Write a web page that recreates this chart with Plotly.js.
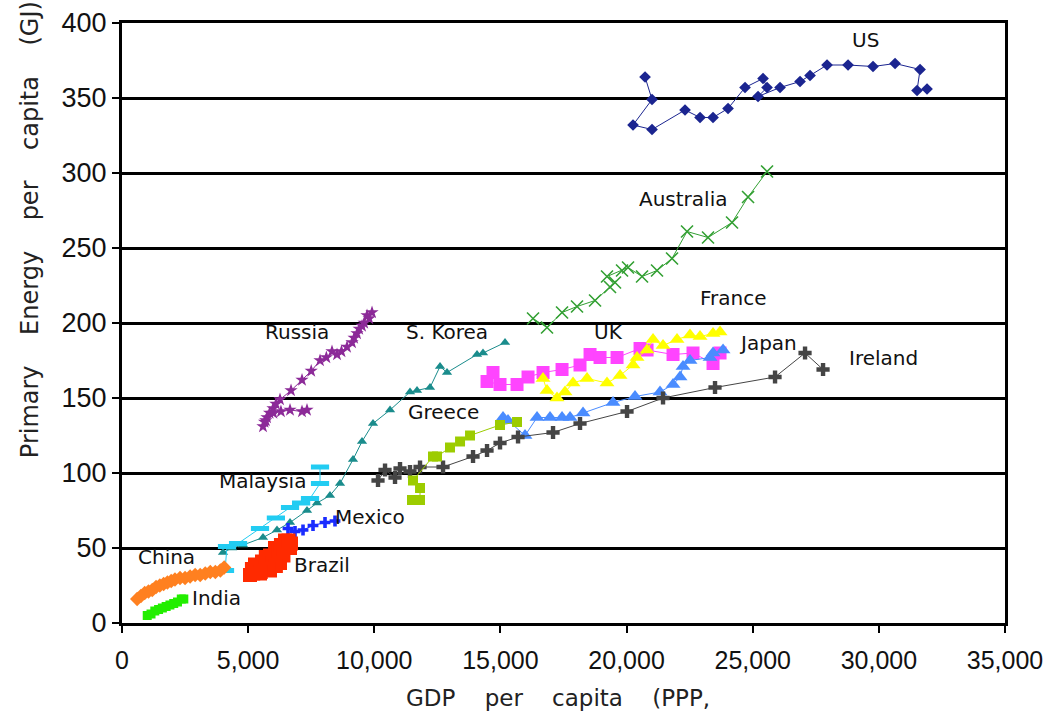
<!DOCTYPE html>
<html>
<head>
<meta charset="utf-8">
<script src="https://cdn.plot.ly/plotly-3.0.1.min.js"></script>
<style>html,body{margin:0;padding:0;background:#fff;}#chart{width:1058px;height:722px;}</style>
</head>
<body>
<div id="chart"></div>
<script>
// GDP per capita (PPP) vs primary energy per capita (GJ)
const usX = [20733,21009,20256,21009,22317,22912,23427,24022,24696,25409,25568,25211,26083,26876,27272,27946,28779,29769,30642,31633,31514,31910];
const usY = [364,349,332,329,342,337,337,343,357,363,357,351,357,361,365,372,372,371,373,369,355,356];

const australiaX = [16292,16847,17442,18036,18750,19344,19542,19225,19820,20058,20613,21207,21802,22396,23229,24180,24815,25568];
const australiaY = [203,197,207,211,215,224,227,231,235,237,231,235,243,261,257,267,284,301];

const russiaX = [9910,9800,9712,9600,9514,9400,9315,9200,9117,8919,8700,8523,8324,8100,7849,7500,7135,6700,6263,6100,5986,5850,5748,5650,5589,5700,6000,6300,6660,7135,7333];
const russiaY = [207,203,205,200,198,196,193,190,187,184,181,179,181,177,175,168,162,155,149,146,143,140,137,134,131,135,140,141,142,141,142];

const koreaX = [4004,4360,4796,5589,6144,6660,7333,7730,8245,8641,9157,9514,9950,10624,11416,11694,12209,12606,12883,14072,14310,15182];
const koreaY = [47,50,52,57,62,67,75,80,85,93,109,121,133,142,154,155,157,171,167,179,180,187];

const malaysiaX = [4083,4162,4600,5470,6100,6660,7100,7452,7849,7849];
const malaysiaY = [35,51,53,63,70,77,80,83,93,104];

const mexicoX = [6580,6858,7175,7571,8047,8443];
const mexicoY = [63,61,62,65,67,68];

const brazilX = [5074,5150,5272,5350,5470,5550,5700,5867,5950,5867,6065,6200,6300,6461,6600,6700,6660,6400,6263,6100,5800,5500,5200];
const brazilY = [32,36,39,35,33,41,44,45,40,35,50,48,52,55,55,53,50,45,40,38,36,34,33];

const chinaX = [600,750,900,1050,1200,1350,1500,1650,1800,1950,2100,2300,2500,2700,2900,3100,3300,3500,3700,3900,4050];
const chinaY = [16,18,20,21,22,24,25,26,27,28,29,30,30,31,32,32,33,34,34,35,37];

const indiaX = [1000,1150,1300,1450,1600,1750,1900,2050,2200,2350,2450];
const indiaY = [5,6,8,9,10,11,12,13,14,16,16];

const ukX = [14706,14469,14984,15658,16094,16689,17442,18155,18552,18948,19622,20534,20812,21842,22634,23427,23705];
const ukY = [167,161,159,159,164,167,169,172,179,177,177,183,182,179,180,173,180];

const franceX = [16689,16847,17243,17560,17878,18433,19225,19741,20256,20415,20812,21049,21446,22000,22515,22912,23427,23705];
const franceY = [163,155,150,154,160,163,160,165,172,177,182,189,185,189,192,191,193,194];

const japanX = [15103,15301,15975,16451,16966,17442,17759,18274,19463,20335,21326,21842,22119,22238,22515,23308,23427,23824];
const japanY = [137,135,125,137,137,137,137,140,147,151,154,159,164,171,175,177,180,182];

const irelandX = [10148,10426,10822,11020,11416,11813,12725,13914,14469,14984,15698,17085,18155,20018,21445,23506,25885,27074,27788];
const irelandY = [95,102,97,103,101,104,104,111,115,120,124,127,133,141,150,157,164,180,169];

const greeceX = [11495,11813,11813,11535,12328,12487,13002,13399,13795,14984,15658];
const greeceY = [82,82,90,95,111,111,117,121,125,132,134];

const xTickVals = [0,5000,10000,15000,20000,25000,30000,35000];
const xTickText = ['0','5,000','10,000','15,000','20,000','25,000','30,000','35,000'];
const yTickVals = [0,50,100,150,200,250,300,350,400];

const labelNames = ['US','Australia','France','UK','Russia','S. Korea','Japan','Ireland','Greece','Malaysia','Mexico','China','Brazil','India'];
const labelX = [29453,22238,24220,19265,6937,12883,25607,30166,12725,5550,9830,1744,7928,3726];
const labelY = [389,283,217,194,194,194,187,177,141,95,71,44,39,17];

function series(name, x, y, color, symbol, size, extra) {
  const m = {color: color, symbol: symbol, size: size, line: {width: 0, color: color}};
  if (extra) Object.assign(m, extra);
  return {type: 'scatter', mode: 'lines+markers', name: name, x: x, y: y,
    line: {color: color, width: 1}, marker: m, hoverinfo: 'x+y+name'};
}

const traces = [
  series('US', usX, usY, '#1b2590', 'diamond', 9),
  series('Australia', australiaX, australiaY, '#33a033', 'x-thin', 12, {line: {width: 1.6, color: '#33a033'}}),
  series('Russia', russiaX, russiaY, '#8c2a98', 'star', 10),
  series('S. Korea', koreaX, koreaY, '#1a8c8c', 'triangle-up', 9),
  series('Malaysia', malaysiaX, malaysiaY, '#22ccf2', 'line-ew', 13, {line: {width: 5, color: '#22ccf2'}}),
  series('Mexico', mexicoX, mexicoY, '#1a2cff', 'cross', 9),
  series('Brazil', brazilX, brazilY, '#ff2a00', 'square', 14),
  series('China', chinaX, chinaY, '#ff8020', 'diamond', 11),
  series('India', indiaX, indiaY, '#22ee00', 'square', 9),
  series('UK', ukX, ukY, '#ff44ff', 'square', 13),
  series('France', franceX, franceY, '#ffff00', 'triangle-up', 13),
  series('Japan', japanX, japanY, '#4a8cff', 'triangle-up', 13),
  series('Ireland', irelandX, irelandY, '#454545', 'cross', 11),
  series('Greece', greeceX, greeceY, '#9ccc00', 'square', 10)
];

const annotations = labelNames.map((t, i) => ({
  text: t, x: labelX[i], y: labelY[i], xref: 'x', yref: 'y', showarrow: false,
  font: {family: 'DejaVu Sans', size: 20, color: '#111'}
}));
const sp = '\u00a0\u00a0\u00a0\u00a0';
annotations.push({
  text: 'Primary' + sp + 'Energy' + sp + 'per' + sp + 'capita' + sp + '(GJ)',
  xref: 'paper', yref: 'paper', x: -0.104, y: 0.655, xanchor: 'center', yanchor: 'middle',
  textangle: -90, showarrow: false,
  font: {family: 'DejaVu Sans', size: 24, color: '#222'}
});
annotations.push({
  text: 'GDP' + sp + 'per' + sp + 'capita' + sp + '(PPP,',
  xref: 'paper', yref: 'paper', x: 0.494, y: -0.125, xanchor: 'center', yanchor: 'middle',
  showarrow: false,
  font: {family: 'DejaVu Sans', size: 23, color: '#222'}
});

const layout = {
  width: 1058, height: 722,
  margin: {l: 122, r: 53, t: 23, b: 99, pad: 0},
  paper_bgcolor: '#fff', plot_bgcolor: '#fff',
  showlegend: false,
  font: {family: 'Liberation Sans, Arial, sans-serif', color: '#111'},
  xaxis: {
    range: [0, 35000], tickvals: xTickVals, ticktext: xTickText,
    showgrid: false, zeroline: false, showline: true, linecolor: '#000', linewidth: 3, mirror: true,
    ticks: 'outside', ticklen: 7, tickwidth: 2, tickcolor: '#000',
    tickfont: {family: 'Liberation Sans, Arial, sans-serif', size: 25, color: '#111'},
    ticklabelstandoff: 6
  },
  yaxis: {
    range: [0, 400], tickvals: yTickVals,
    showgrid: true, gridcolor: '#000', gridwidth: 3, zeroline: false,
    showline: true, linecolor: '#000', linewidth: 3, mirror: true,
    ticks: 'outside', ticklen: 7, tickwidth: 2, tickcolor: '#000',
    tickfont: {family: 'Liberation Sans, Arial, sans-serif', size: 27, color: '#111'}
  },
  annotations: annotations
};

Plotly.newPlot('chart', traces, layout, {displayModeBar: false, staticPlot: true});
</script>
</body>
</html>
